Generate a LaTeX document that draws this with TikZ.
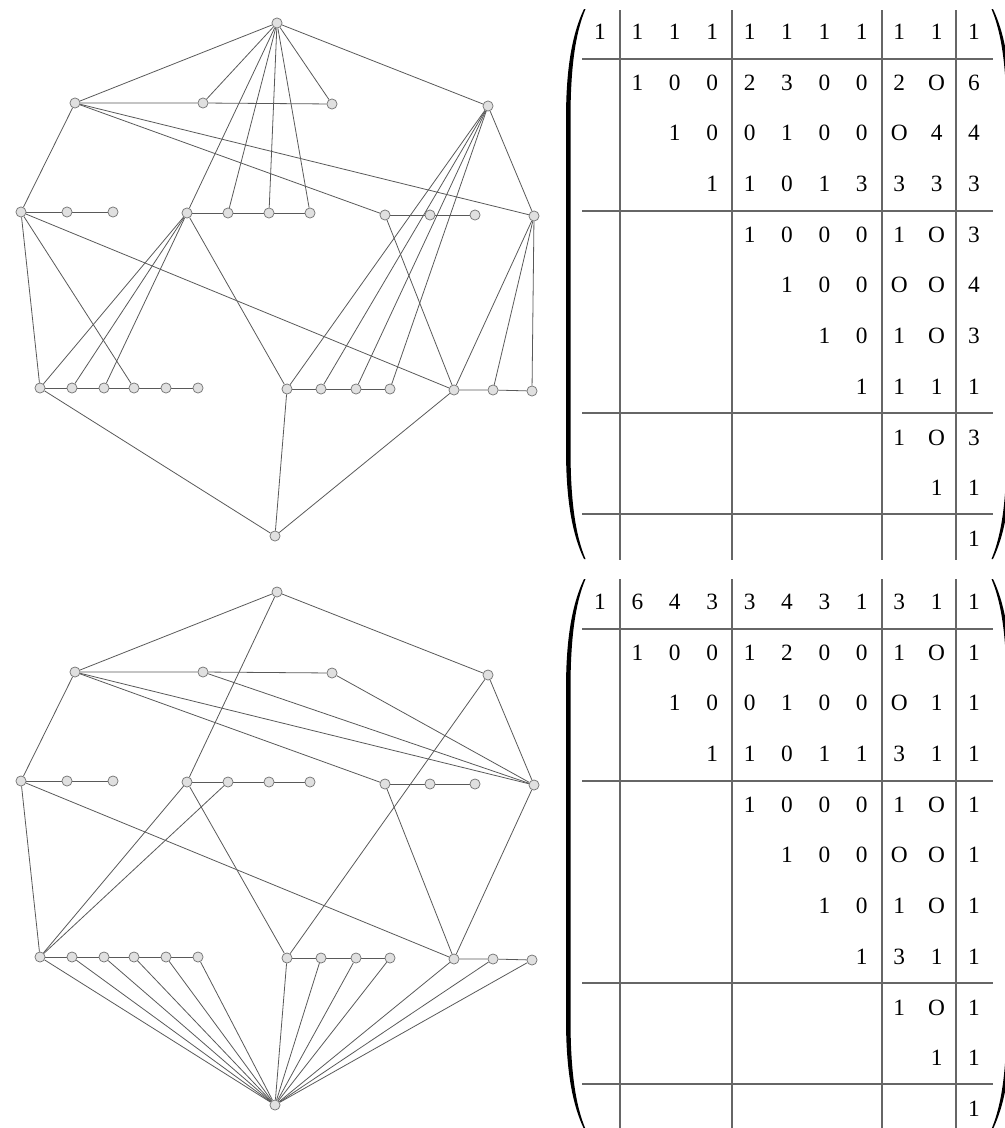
\documentclass[tikz,border=0pt]{standalone}
\usepackage{fontspec}
\setmainfont{Liberation Serif}
\pgfdeclarelayer{bg}
\pgfsetlayers{bg,main}
\tikzset{
 vtx/.style={circle, draw=black!55, fill=black!12, line width=0.55pt, minimum size=7.6pt, inner sep=0pt},
 edg/.style={draw=black!65, line width=0.6pt},
 entry/.style={inner sep=0pt, text height=0.66em, text depth=0pt, font=\fontsize{17.5}{20}\selectfont},
 mline/.style={draw=black!60, line width=0.9pt},
 parenfill/.style={fill=black},
}
\newcommand\placenodes[2]{%
 \foreach \n/\x/\y in {T/277/23, A1/75/103, A2/203/103, A3/332/104, B/488/106,
   C1/21/212, C2/67/212, C3/113/212, D1/187/213, D2/228/213, D3/269/213, D4/310/213,
   E1/385/215, E2/430/215, E3/475/215, F/534/216,
   G1/40/388, G2/72/388, G3/104/388, G4/134/388, G5/166/388, G6/198/388,
   H1/287/389, H2/321/389, H3/356/389, H4/390/389, I1/454/390, I2/493/390, I3/532/391,
   K/275/536}{\node[vtx] (#1\n) at (\x,{\y+#2}) {};}}
\newcommand\chains[1]{%
 \draw[edg] (#1A1) -- (#1A2) -- (#1A3);
 \draw[edg] (#1C1) -- (#1C2) -- (#1C3);
 \draw[edg] (#1D1) -- (#1D2) -- (#1D3) -- (#1D4);
 \draw[edg] (#1E1) -- (#1E2) -- (#1E3);
 \draw[edg] (#1G1) -- (#1G2) -- (#1G3) -- (#1G4) -- (#1G5) -- (#1G6);
 \draw[edg] (#1H1) -- (#1H2) -- (#1H3) -- (#1H4);
 \draw[edg] (#1I1) -- (#1I2) -- (#1I3);}
\newcommand\fillmatrix[3]{%
 \foreach \r/\s/\vals in {#3}{%
  \foreach[count=\k from \s] \v in \vals {%
   \node[entry] (#1\r-\k) at ({600+37.4*(\k-1)},{35+50.7*(\r-1)+#2}) {\v};}}}
\newcommand\matframe[2]{%
 \foreach \xx in {620,732,882,956}{\draw[mline] (\xx,#1) -- (\xx,#2);}
}
\newcommand\lparen[2]{%
 \fill[parenfill] (584,#1) .. controls (572,{#1+25}) and (566,{#1+60}) .. (566,{#1+110})
   -- (566,{#2-110}) .. controls (566,{#2-60}) and (572,{#2-25}) .. (584,#2)
   -- (585.5,#2) .. controls (575,{#2-25}) and (570.5,{#2-60}) .. (570.5,{#2-110})
   -- (570.5,{#1+110}) .. controls (570.5,{#1+60}) and (575,{#1+25}) .. (585.5,#1) -- cycle;}
\newcommand\rparen[2]{%
 \fill[parenfill] (993,#1) .. controls (1005,{#1+25}) and (1011,{#1+60}) .. (1011,{#1+110})
   -- (1011,{#2-110}) .. controls (1011,{#2-60}) and (1005,{#2-25}) .. (993,#2)
   -- (991.5,#2) .. controls (1002,{#2-25}) and (1006.5,{#2-60}) .. (1006.5,{#2-110})
   -- (1006.5,{#1+110}) .. controls (1006.5,{#1+60}) and (1002,{#1+25}) .. (991.5,#1) -- cycle;}
\begin{document}
\begin{tikzpicture}[x=0.75pt,y=-0.75pt]
\useasboundingbox (0,0) rectangle (1004,1128);
% ---------- graphs ----------
\placenodes{t}{0}
\placenodes{b}{569}
\begin{pgfonlayer}{bg}
\chains{t}
\foreach \a/\b in {T/A1,T/A2,T/A3,T/B,T/D1,T/D2,T/D3,T/D4,
  A1/C1,A1/E1,A1/F,B/F,B/H1,B/H2,B/H3,B/H4,
  C1/G1,C1/G4,C1/I1,D1/G1,D1/G2,D1/G3,D1/H1,E1/I1,
  F/I1,F/I2,F/I3,K/G1,K/H1,K/I1}{\draw[edg] (t\a) -- (t\b);}
\chains{b}
\foreach \a/\b in {T/A1,T/B,T/D1,A1/C1,A1/E1,A1/F,A2/F,A3/F,B/F,B/H1,
  C1/G1,C1/I1,D1/G1,D2/G1,D1/H1,E1/I1,F/I1,
  K/G1,K/G2,K/G3,K/G4,K/G5,K/G6,K/H1,K/H2,K/H3,K/H4,K/I1,K/I2,K/I3}{\draw[edg] (b\a) -- (b\b);}
\end{pgfonlayer}
% ---------- top matrix ----------
\fillmatrix{tm}{0}{1/1/{1,1,1,1,1,1,1,1,1,1,1},
 2/2/{1,0,0,2,3,0,0,2,O,6},
 3/3/{1,0,0,1,0,0,O,4,4},
 4/4/{1,1,0,1,3,3,3,3},
 5/5/{1,0,0,0,1,O,3},
 6/6/{1,0,0,O,O,4},
 7/7/{1,0,1,O,3},
 8/8/{1,1,1,1},
 9/9/{1,O,3},
 10/10/{1,1},
 11/11/{1}}
\matframe{10}{560}
\foreach \yy in {59,211,413,514}{\draw[mline] (582,\yy) -- (993,\yy);}
\lparen{9}{559}
\rparen{9}{559}
% ---------- bottom matrix ----------
\fillmatrix{bm}{570}{1/1/{1,6,4,3,3,4,3,1,3,1,1},
 2/2/{1,0,0,1,2,0,0,1,O,1},
 3/3/{1,0,0,1,0,0,O,1,1},
 4/4/{1,1,0,1,1,3,1,1},
 5/5/{1,0,0,0,1,O,1},
 6/6/{1,0,0,O,O,1},
 7/7/{1,0,1,O,1},
 8/8/{1,3,1,1},
 9/9/{1,O,1},
 10/10/{1,1},
 11/11/{1}}
\matframe{579}{1130}
\foreach \yy in {629,781,983,1084}{\draw[mline] (582,\yy) -- (993,\yy);}
\lparen{579}{1129}
\rparen{579}{1129}
\end{tikzpicture}
\end{document}
